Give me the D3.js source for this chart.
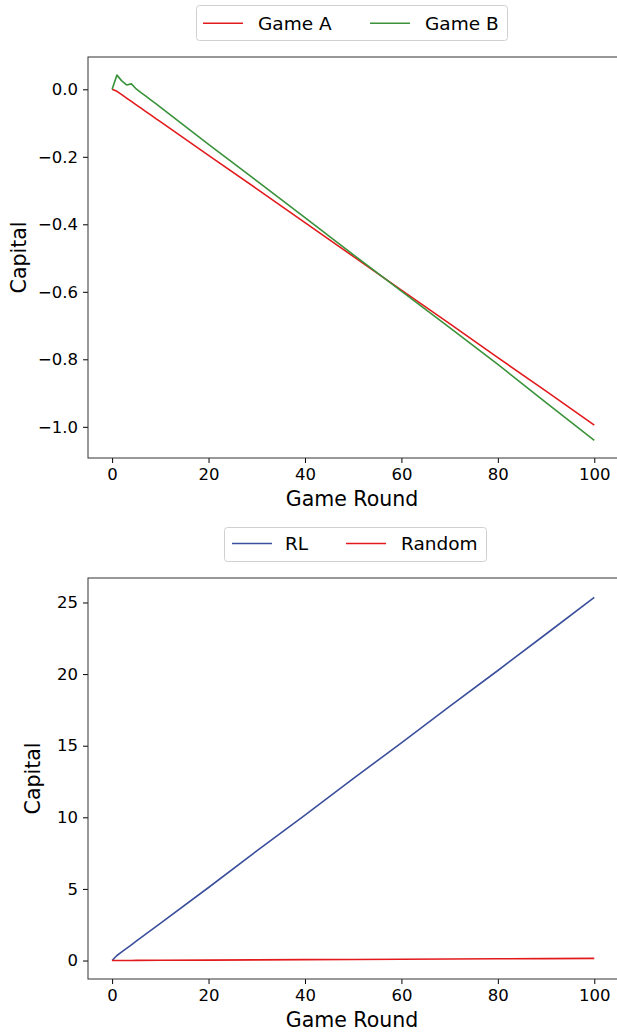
<!DOCTYPE html>
<html>
<head>
<meta charset="utf-8">
<script src="https://cdn.jsdelivr.net/npm/d3@7"></script>
<style>
  body { margin: 0; background: #fff; }
  svg { display: block; font-family: "DejaVu Sans", sans-serif; }
</style>
</head>
<body>
<svg id="chart" width="617" height="1035"></svg>
<script>
// ---- Data ----
const roundsTop = [0,1,2,3,4,5,6,7,8,9,10,20,30,40,50,60,70,80,90,100];
const gameA = [0,-0.006,-0.016,-0.026,-0.036,-0.046,-0.056,-0.066,-0.076,-0.086,-0.096,-0.196,-0.295,-0.395,-0.495,-0.595,-0.694,-0.795,-0.894,-0.995];
const gameB = [0,0.042,0.025,0.013,0.016,0.001,-0.010,-0.020,-0.031,-0.042,-0.053,-0.163,-0.271,-0.380,-0.490,-0.598,-0.706,-0.815,-0.928,-1.040];

const roundsBottom = [0,1,2,3,4,5,10,20,30,40,50,60,70,80,90,100];
const rlCapital = [0,0.35,0.6,0.85,1.1,1.35,2.6,5.1,7.65,10.15,12.7,15.2,17.75,20.25,22.8,25.35];
const randomCapital = [0,0.002,0.003,0.005,0.006,0.008,0.015,0.03,0.045,0.06,0.075,0.09,0.105,0.12,0.135,0.15];

const xTicks = [0,20,40,60,80,100];
const yTicksTop = [0,-0.2,-0.4,-0.6,-0.8,-1.0];
const yTicksBottom = [0,5,10,15,20,25];
const topLegend = ["Game A","Game B"];
const bottomLegend = ["RL","Random"];

const RED = "#e31a1c", GREEN = "#3a923a", BLUE = "#3b4f9c";

const svg = d3.select("#chart");

function panel(cfg) {
  const g = svg.append("g");
  const x = d3.scaleLinear().domain([-5,105]).range([88, 618.4]);
  const y = d3.scaleLinear().domain(cfg.yDomain).range([cfg.bottom, cfg.top]);

  // x axis
  const xa = g.append("g").attr("transform", `translate(0,${cfg.bottom})`)
    .call(d3.axisBottom(x).tickValues(xTicks).tickSize(5).tickSizeOuter(0).tickPadding(5));
  xa.select(".domain").remove();
  xa.selectAll("text").attr("font-size", "16.5px").attr("fill", "#000").attr("font-family", "DejaVu Sans");
  xa.selectAll("line").attr("stroke", "#000");

  // y axis
  const ya = g.append("g").attr("transform", `translate(88,0)`)
    .call(d3.axisLeft(y).tickValues(cfg.yTicks).tickFormat(cfg.fmt).tickSize(5).tickSizeOuter(0).tickPadding(5));
  ya.select(".domain").remove();
  ya.selectAll("text").attr("font-size", "16.5px").attr("fill", "#000").attr("font-family", "DejaVu Sans");
  ya.selectAll("line").attr("stroke", "#000");

  // lines
  const clipId = "clip" + cfg.top;
  svg.append("clipPath").attr("id", clipId).append("rect")
    .attr("x", 88).attr("y", cfg.top).attr("width", 531).attr("height", cfg.bottom - cfg.top);
  cfg.series.forEach(s => {
    const line = d3.line().x((d,i) => x(cfg.rounds[i])).y(d => y(d));
    g.append("path").datum(s.values)
      .attr("clip-path", `url(#${clipId})`)
      .attr("fill", "none").attr("stroke", s.color).attr("stroke-width", 1.6)
      .attr("stroke-linejoin", "round")
      .attr("d", line);
  });

  // frame (spines)
  g.append("rect").attr("x", 88).attr("y", cfg.top)
    .attr("width", 618.4 - 88).attr("height", cfg.bottom - cfg.top)
    .attr("fill", "none").attr("stroke", "#333").attr("stroke-width", 1);

  // axis labels
  g.append("text").attr("x", 352).attr("y", cfg.bottom + 48)
    .attr("text-anchor", "middle").attr("font-size", "20.5px").text("Game Round");
  g.append("text")
    .attr("transform", `translate(${cfg.ylabelX},${(cfg.top + cfg.bottom)/2}) rotate(-90)`)
    .attr("text-anchor", "middle").attr("dy", "0.35em").attr("font-size", "20.5px").text("Capital");

  // legend
  const L = cfg.legend;
  const lg = g.append("g");
  lg.append("rect").attr("x", L.x0).attr("y", L.y0).attr("width", L.x1 - L.x0).attr("height", L.y1 - L.y0)
    .attr("rx", 3).attr("fill", "#fff").attr("stroke", "#d0d0d0").attr("stroke-width", 1);
  L.items.forEach(it => {
    lg.append("line").attr("x1", it.lx).attr("x2", it.lx + 40).attr("y1", L.cy).attr("y2", L.cy)
      .attr("stroke", it.color).attr("stroke-width", 1.6);
    lg.append("text").attr("x", it.tx).attr("y", L.cy).attr("dy", "0.36em")
      .attr("font-size", "18.5px").text(it.label);
  });
}

panel({
  top: 57, bottom: 458,
  yDomain: [-1.0924, 0.0957],
  yTicks: yTicksTop,
  fmt: d3.format(".1f"),
  rounds: roundsTop,
  ylabelX: 19,
  series: [{values: gameA, color: RED}, {values: gameB, color: GREEN}],
  legend: {x0: 196.5, x1: 507.5, y0: 5.5, y1: 40.5, cy: 23.3,
    items: [{lx: 203, tx: 258, label: topLegend[0], color: RED},
            {lx: 370, tx: 425, label: topLegend[1], color: GREEN}]}
});

panel({
  top: 578, bottom: 979,
  yDomain: [-1.29, 26.71],
  yTicks: yTicksBottom,
  fmt: d3.format("d"),
  rounds: roundsBottom,
  ylabelX: 33,
  series: [{values: rlCapital, color: BLUE}, {values: randomCapital, color: RED}],
  legend: {x0: 224.5, x1: 486.5, y0: 527.5, y1: 561.5, cy: 543.5,
    items: [{lx: 232, tx: 285, label: bottomLegend[0], color: BLUE},
            {lx: 346, tx: 401, label: bottomLegend[1], color: RED}]}
});
</script>
</body>
</html>
